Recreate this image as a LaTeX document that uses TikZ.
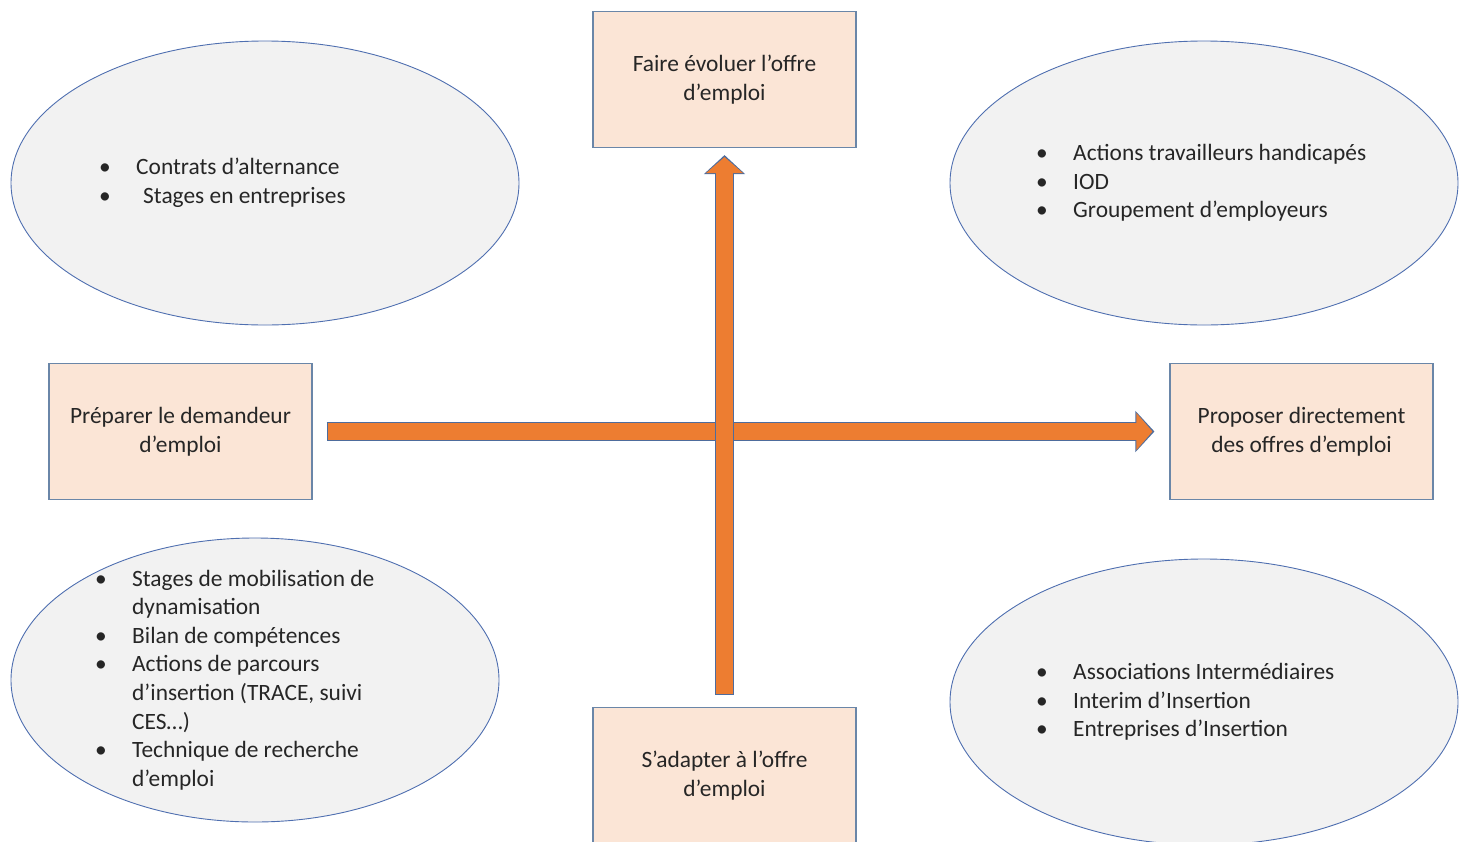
\documentclass[tikz,border=0pt]{standalone}
\usepackage{fontspec}
\setmainfont{Carlito}
\usepackage{tikz}
\usetikzlibrary{shapes.geometric,arrows.meta}
\definecolor{boxfill}{HTML}{FBE5D6}
\definecolor{boxline}{HTML}{6A86A8}
\definecolor{ovalfill}{HTML}{F2F2F2}
\definecolor{ovalline}{HTML}{4F6FB0}
\definecolor{arroworange}{HTML}{ED7D31}
\definecolor{arrowline}{HTML}{4E6C9C}
\newcommand{\puce}{\makebox[37pt][l]{•}}
\tikzset{
  every node/.style={font=\fontsize{23.4pt}{28.6pt}\selectfont, text=black!85},
  plaque/.style={rectangle, draw=boxline, fill=boxfill, line width=1.1pt,
    minimum width=263pt, minimum height=136pt, align=center, inner sep=0pt},
  bulle/.style={ellipse, draw=ovalline, fill=ovalfill, line width=0.9pt, inner sep=0pt},
  liste/.style={anchor=west, align=left, inner sep=0pt},
  flechebord/.style={draw=arrowline, line width=19.5pt, -{Triangle[length=19pt,width=40pt]}},
  flechecorps/.style={draw=arroworange, line width=17pt, -{Triangle[length=16pt,width=36pt]},
    shorten >=2pt, shorten <=1.2pt}
}
\begin{document}
\begin{tikzpicture}[x=1pt,y=1pt]
  \useasboundingbox (0,0) rectangle (1467,-841);
  % les quatre ovales
  \node[bulle,minimum width=508pt,minimum height=284pt] (hg) at (265,-183) {};
  \node[bulle,minimum width=508pt,minimum height=284pt] (hd) at (1204,-183) {};
  \node[bulle,minimum width=488pt,minimum height=284pt] (bg) at (255,-680) {};
  \node[bulle,minimum width=508pt,minimum height=286pt] (bd) at (1204,-702) {};
  \node[liste] (hg-txt) at ([xshift=-166pt]hg.center)
    {\puce Contrats d’alternance\\\puce\hspace{7pt}Stages en entreprises};
  \node[liste] (hd-txt) at ([xshift=-168pt]hd.center)
    {\puce Actions travailleurs handicapés\\\puce IOD\\\puce Groupement d’employeurs};
  \node[liste] (bg-txt) at ([xshift=-160pt]bg.center)
    {\puce Stages de mobilisation de\\\hspace*{37pt}dynamisation\\\puce Bilan de compétences\\
     \puce Actions de parcours\\\hspace*{37pt}d’insertion (TRACE, suivi\\\hspace*{37pt}CES…)\\
     \puce Technique de recherche\\\hspace*{37pt}d’emploi};
  \node[liste] (bd-txt) at ([xshift=-168pt]bd.center)
    {\puce Associations Intermédiaires\\\puce Interim d’Insertion\\\puce Entreprises d’Insertion};
  % les quatre plaques
  \node[plaque] (haut) at (724.5,-79.5) {Faire évoluer l’offre\\d’emploi};
  \node[plaque] (bas) at (724.5,-775.5) {S’adapter à l’offre\\d’emploi};
  \node[plaque] (gauche) at (180.5,-431.5) {Préparer le demandeur\\d’emploi};
  \node[plaque] (droite) at (1301.5,-431.5) {Proposer directement\\des offres d’emploi};
  % les fleches
  \coordinate (h0) at ([xshift=14pt]gauche.east);
  \coordinate (h1) at ([xshift=-15pt]droite.west);
  \coordinate (v0) at ([yshift=12pt]bas.north);
  \coordinate (v1) at ([yshift=-7pt]haut.south);
  \draw[flechebord] (h0) -- (h1);
  \draw[flechecorps] (h0) -- (h1);
  \draw[flechebord] (v0) -- (v1);
  \draw[flechecorps] (v0) -- (v1);
\end{tikzpicture}
\end{document}
